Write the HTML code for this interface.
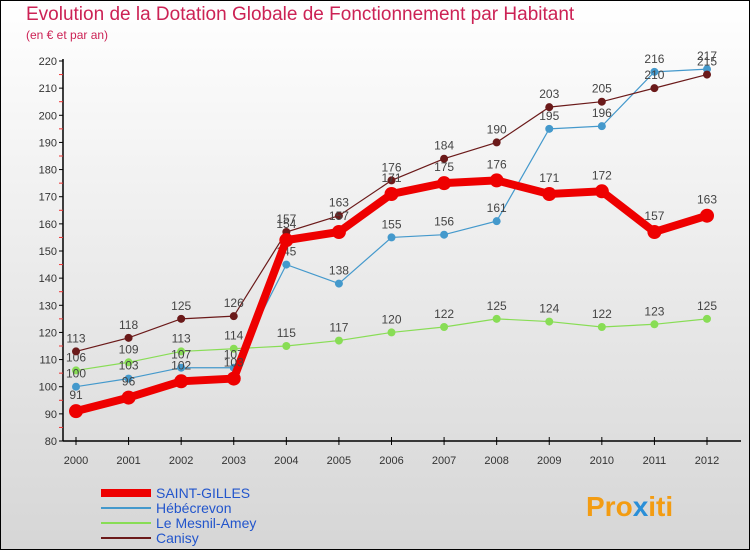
<!DOCTYPE html>
<html><head><meta charset="utf-8"><style>
body{margin:0}
#c{position:relative;width:748px;height:548px;border:1px solid #000;background:linear-gradient(#fff,#d6d6d6);font-family:"Liberation Sans",sans-serif;overflow:hidden}
.t{position:absolute;color:#cc2255;white-space:nowrap}
</style></head><body>
<div id="c">
<div class="t" style="left:25px;top:3px;font-size:19px">Evolution de la Dotation Globale de Fonctionnement par Habitant</div>
<div class="t" style="left:25px;top:27px;font-size:12px">(en € et par an)</div>
<svg id="s" width="748" height="548" style="position:absolute;left:0;top:0"></svg>
<div class="t" style="left:585px;top:490px;font-size:28px;font-weight:bold;color:#f39c12">Pro<span style="color:#2a8fd8">x</span>iti</div>
</div>
<script>
const years=[2000,2001,2002,2003,2004,2005,2006,2007,2008,2009,2010,2011,2012];
const yTicks=[80,90,100,110,120,130,140,150,160,170,180,190,200,210,220];
const saint=[91,96,102,103,154,157,171,175,176,171,172,157,163];
const hebe=[100,103,107,107,145,138,155,156,161,195,196,216,217];
const mesnil=[106,109,113,114,115,117,120,122,125,124,122,123,125];
const canisy=[113,118,125,126,157,163,176,184,190,203,205,210,215];
const names=['SAINT-GILLES','Hébécrevon','Le Mesnil-Amey','Canisy'];
const NS='http://www.w3.org/2000/svg',s=document.getElementById('s');
const X=i=>75+i*(706-75)/(years.length-1);
const Y=v=>440-(v-80)*(380/140);
function el(t,a,p){const e=document.createElementNS(NS,t);for(const k in a)e.setAttribute(k,a[k]);(p||s).appendChild(e);return e;}
const ax=el('line',{x1:62,y1:58,x2:62,y2:440,stroke:'#000','stroke-width':1.5});

const bx=el('line',{x1:62,y1:440,x2:740,y2:440,stroke:'#000','stroke-width':1.5});

yTicks.forEach(v=>{
 el('line',{x1:58,y1:Y(v),x2:62,y2:Y(v),stroke:'#000'});
 if(v<220)el('line',{x1:58,y1:Y(v+5),x2:62,y2:Y(v+5),stroke:'#e33'});
 const t=el('text',{x:56,y:Y(v)+4,'text-anchor':'end','font-size':11,fill:'#333'});t.textContent=v;
 
});
years.forEach((y,i)=>{
 el('line',{x1:X(i),y1:436,x2:X(i),y2:444,stroke:'#000'});
 const t=el('text',{x:X(i),y:463,'text-anchor':'middle','font-size':11,fill:'#333'});t.textContent=y;
 
});
const series=[[mesnil,'#88dd55',1.2,4,'mesnil'],[hebe,'#4499cc',1.2,4,'hebecrevon'],[canisy,'#6b1a1a',1.2,4,'canisy'],[saint,'#ee0000',8,7,'saint-gilles']];
series.forEach(([d,c,w,r,n])=>{
 const p=el('polyline',{points:d.map((v,i)=>X(i)+','+Y(v)).join(' '),fill:'none',stroke:c,'stroke-width':w});
 
 d.forEach((v,i)=>{
  const m=el('circle',{cx:X(i),cy:Y(v),r:r,fill:c});
  
  const t=el('text',{x:X(i),y:Y(v)-(r+5),'text-anchor':'middle','font-size':12,fill:'#444'});t.textContent=v;
  
 });
});
const lc=['#ee0000','#4499cc','#88dd55','#6b1a1a'],lw=[8,2,2,2];
names.forEach((nm,i)=>{
 const y=492+i*15;
 const l=el('line',{x1:100,y1:y,x2:150,y2:y,stroke:lc[i],'stroke-width':lw[i]});
 
 const t=el('text',{x:155,y:y+5,'font-size':14,fill:'#2255cc'});t.textContent=nm;
 
});
</script>
</body></html>
